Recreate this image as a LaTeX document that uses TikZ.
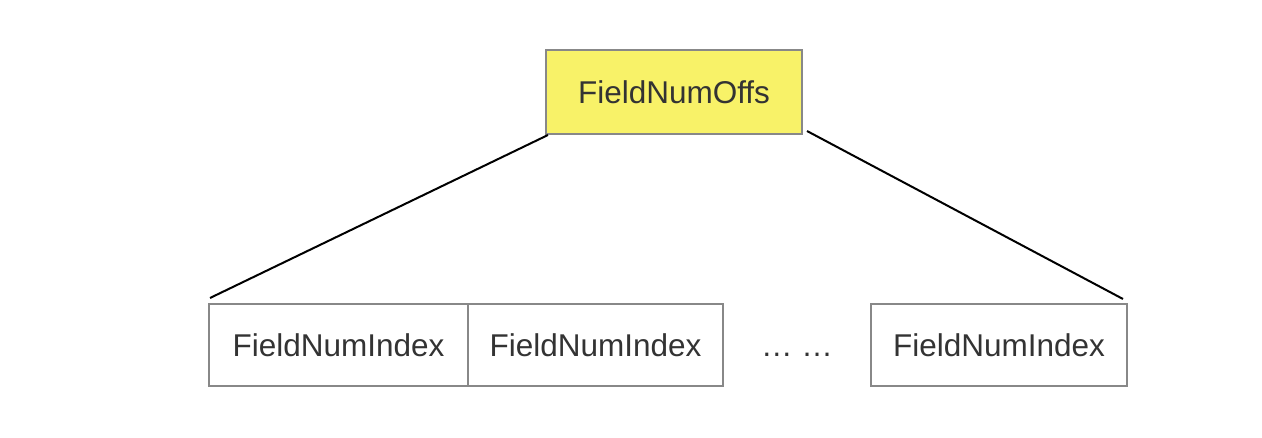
\documentclass[tikz,border=0pt]{standalone}
\usepackage{fontspec}
\setmainfont{Liberation Sans}
\usetikzlibrary{calc}
\definecolor{boxgray}{HTML}{888888}
\definecolor{txtgray}{HTML}{333333}
\definecolor{hiyellow}{HTML}{F8F268}
\tikzset{
  cell/.style={draw=boxgray, line width=2pt, inner sep=0pt, minimum height=82pt,
    text=txtgray, font=\fontsize{31.5}{36}\selectfont},
  edge/.style={draw=black, line width=2pt}
}
\begin{document}
\begin{tikzpicture}[x=1pt,y=-1pt]
\useasboundingbox (0,0) rectangle (1262,438);
\node[cell, fill=hiyellow, minimum width=256pt, minimum height=84pt] (top) at (674,92) {FieldNumOffs};
\node[cell, minimum width=259pt] (b1) at (338.5,345) {FieldNumIndex};
\node[cell, minimum width=255pt] (b2) at (595.5,345) {FieldNumIndex};
\node[cell, minimum width=256pt] (b3) at (999,345) {FieldNumIndex};
\node[anchor=base, text=txtgray, font=\fontsize{31.5}{36}\selectfont, inner sep=0pt] (dots) at (797,357) {… …};
\draw[edge] ($(top.south west)+(3,0)$) -- ($(b1.north west)+(2,-5)$);
\draw[edge] ($(top.south east)+(4,-4)$) -- ($(b3.north east)+(-5,-4)$);
\end{tikzpicture}
\end{document}
